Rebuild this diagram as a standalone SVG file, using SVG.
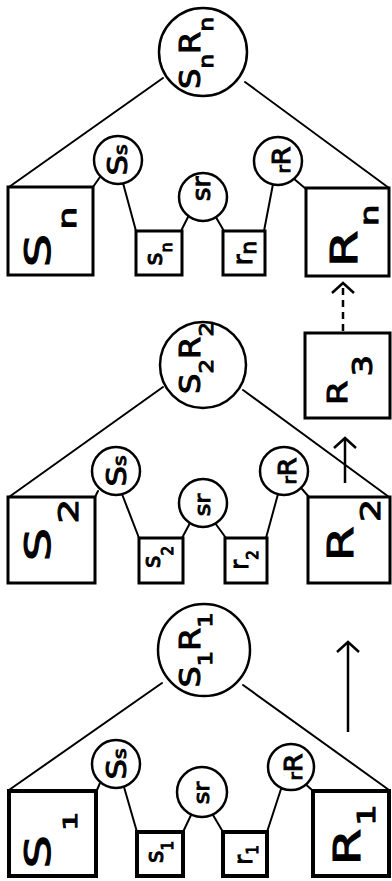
<svg xmlns="http://www.w3.org/2000/svg" width="392" height="881" viewBox="0 0 392 881">
<defs>
<style>
.bg{fill:#fff}
.box{fill:#fff;stroke:#000;stroke-width:3}
.box4{fill:#fff;stroke:#000;stroke-width:4}
.circ{fill:#fff;stroke:#000;stroke-width:2.5}
.ln{stroke:#000;stroke-width:2;fill:none;stroke-linecap:round}
.arr{stroke:#000;stroke-width:2.5;fill:none}
.dash{stroke:#000;stroke-width:2.5;fill:none;stroke-dasharray:7 5}
text{font-family:"DejaVu Sans","Liberation Sans",sans-serif;fill:#000;stroke:#000;stroke-width:1;text-anchor:middle}
</style>
<marker id="head" viewBox="-15 -15 30 30" refX="0" refY="0" markerWidth="30" markerHeight="30" markerUnits="userSpaceOnUse" orient="auto" overflow="visible">
<path d="M -10 -11 L 0 0 L -10 11" stroke="#000" stroke-width="2.5" fill="none"/>
</marker>
</defs>
<rect class="bg" x="0" y="0" width="392" height="881"/>

<g id="connectors">
<line class="ln" x1="163" y1="78" x2="9" y2="187"/>
<line class="ln" x1="245" y1="82" x2="389" y2="188"/>
<line class="ln" x1="100" y1="177" x2="93" y2="187"/>
<line class="ln" x1="123" y1="183" x2="136" y2="231"/>
<line class="ln" x1="190" y1="213" x2="181" y2="231"/>
<line class="ln" x1="214" y1="214" x2="224" y2="231"/>
<line class="ln" x1="273" y1="184" x2="264" y2="231"/>
<line class="ln" x1="293" y1="178" x2="306" y2="189"/>
<line class="ln" x1="163" y1="387" x2="9" y2="497"/>
<line class="ln" x1="243" y1="390" x2="389" y2="497"/>
<line class="ln" x1="98" y1="491" x2="95" y2="497"/>
<line class="ln" x1="122" y1="494" x2="139" y2="538"/>
<line class="ln" x1="190" y1="523" x2="182" y2="538"/>
<line class="ln" x1="215" y1="523" x2="226" y2="538"/>
<line class="ln" x1="278" y1="494" x2="266" y2="538"/>
<line class="ln" x1="302" y1="489" x2="309" y2="497"/>
<line class="ln" x1="162" y1="683" x2="9" y2="790"/>
<line class="ln" x1="243" y1="685" x2="389" y2="790"/>
<line class="ln" x1="100" y1="783" x2="97" y2="790"/>
<line class="ln" x1="124" y1="787" x2="137" y2="832"/>
<line class="ln" x1="192" y1="813" x2="183" y2="832"/>
<line class="ln" x1="213" y1="815" x2="223" y2="832"/>
<line class="ln" x1="281" y1="789" x2="267" y2="832"/>
<line class="ln" x1="303" y1="782" x2="312" y2="790"/>
<line class="arr" x1="348" y1="732" x2="348" y2="642" marker-end="url(#head)"/>
<line class="arr" x1="345" y1="483" x2="345" y2="438" marker-end="url(#head)"/>
<line class="dash" x1="343" y1="331" x2="343" y2="283" marker-end="url(#head)"/>
</g>

<g id="SnRn"><circle class="circ" cx="203" cy="52" r="44"/>
<text transform="translate(200,53) rotate(-90) scale(1.15,1)" font-size="28">S<tspan font-size="20" dy="13">n</tspan><tspan dy="-13">R</tspan><tspan font-size="20" dy="13">n</tspan></text></g>
<g id="Sn"><rect class="box" x="8" y="187" width="85" height="88"/>
<text transform="translate(50,237) rotate(-90) scale(1.5,1)" font-size="35">S<tspan font-size="24" dy="26" dx="3">n</tspan></text></g>
<g id="Rn"><rect class="box" x="306" y="188" width="83" height="88"/>
<text transform="translate(357,236) rotate(-90) scale(1.4,1)" font-size="38">R<tspan font-size="24" dy="21" dx="3">n</tspan></text></g>
<g id="Ss_n"><circle class="circ" cx="118" cy="160" r="24"/>
<text transform="translate(127,160) rotate(-90) scale(1.2,1)" font-size="27">S<tspan font-size="17">s</tspan></text></g>
<g id="sr_n"><circle class="circ" cx="203" cy="197" r="24"/>
<text transform="translate(210,189) rotate(-90) scale(1.1,1)" font-size="24">sr</text></g>
<g id="rR_n"><circle class="circ" cx="278" cy="161" r="24"/>
<text transform="translate(290,160) rotate(-90) scale(1.1,1)" font-size="18">r<tspan font-size="25">R</tspan></text></g>
<g id="sn"><rect class="box" x="136" y="231" width="46" height="44"/>
<text transform="translate(162,254) rotate(-90)" font-size="25">s<tspan font-size="16" dy="10">n</tspan></text></g>
<g id="rn"><rect class="box" x="223" y="231" width="42" height="44"/>
<text transform="translate(252,253) rotate(-90)" font-size="26">r<tspan font-size="22" dy="4">n</tspan></text></g>

<g id="S2R2"><circle class="circ" cx="203" cy="365" r="43"/>
<text transform="translate(200,358) rotate(-90) scale(1.15,1)" font-size="28">S<tspan font-size="20" dy="13">2</tspan><tspan dy="-13">R</tspan><tspan font-size="20" dy="13">2</tspan></text></g>
<g id="S2"><rect class="box" x="8" y="497" width="87" height="86"/>
<text transform="translate(50,530) rotate(-90) scale(1.5,1)" font-size="35">S<tspan font-size="26" dy="28" dx="3">2</tspan></text></g>
<g id="R2"><rect class="box" x="308" y="497" width="82" height="86"/>
<text transform="translate(353,530) rotate(-90) scale(1.4,1)" font-size="36">R<tspan font-size="26" dy="27" dx="3">2</tspan></text></g>
<g id="Ss_2"><circle class="circ" cx="116" cy="471" r="24"/>
<text transform="translate(126,471) rotate(-90) scale(1.2,1)" font-size="27">S<tspan font-size="17">s</tspan></text></g>
<g id="sr_2"><circle class="circ" cx="203" cy="503" r="24"/>
<text transform="translate(210,505) rotate(-90) scale(1.1,1)" font-size="22">sr</text></g>
<g id="rR_2"><circle class="circ" cx="284" cy="471" r="24"/>
<text transform="translate(296,471) rotate(-90) scale(1.1,1)" font-size="18">r<tspan font-size="25">R</tspan></text></g>
<g id="s2"><rect class="box" x="139" y="538" width="44" height="45"/>
<text transform="translate(160,557) rotate(-90)" font-size="24">s<tspan font-size="15" dy="13">2</tspan></text></g>
<g id="r2"><rect class="box" x="225" y="538" width="42" height="45"/>
<text transform="translate(248,560) rotate(-90)" font-size="24">r<tspan font-size="15" dy="10">2</tspan></text></g>
<g id="R3"><rect class="box" x="305" y="333" width="85" height="85"/>
<text transform="translate(347,380) rotate(-90) scale(1.3,1)" font-size="27">R<tspan font-size="26" dy="25" dx="3">3</tspan></text></g>

<g id="S1R1"><circle class="circ" cx="204" cy="650" r="46"/>
<text transform="translate(200,650) rotate(-90) scale(1.2,1)" font-size="28">S<tspan font-size="20" dy="12">1</tspan><tspan dy="-12">R</tspan><tspan font-size="20" dy="12">1</tspan></text></g>
<g id="S1"><rect class="box4" x="9" y="791" width="87" height="85"/>
<text transform="translate(50,840) rotate(-90) scale(1.5,1)" font-size="35">S<tspan font-size="20" dy="27" dx="3">1</tspan></text></g>
<g id="R1"><rect class="box4" x="313" y="791" width="76" height="85"/>
<text transform="translate(360,835) rotate(-90) scale(1.4,1)" font-size="38">R<tspan font-size="24" dy="15" dx="2">1</tspan></text></g>
<g id="Ss_1"><circle class="circ" cx="116" cy="764" r="24"/>
<text transform="translate(126,764) rotate(-90) scale(1.2,1)" font-size="27">S<tspan font-size="17">s</tspan></text></g>
<g id="sr_1"><circle class="circ" cx="202" cy="792" r="25"/>
<text transform="translate(209,793) rotate(-90) scale(1.1,1)" font-size="22">sr</text></g>
<g id="rR_1"><circle class="circ" cx="291" cy="767" r="23"/>
<text transform="translate(302,767) rotate(-90) scale(1.1,1)" font-size="18">r<tspan font-size="25">R</tspan></text></g>
<g id="s1"><rect class="box4" x="137" y="832" width="46" height="44"/>
<text transform="translate(163,852) rotate(-90)" font-size="24">s<tspan font-size="15" dy="10">1</tspan></text></g>
<g id="r1"><rect class="box4" x="223" y="832" width="44" height="44"/>
<text transform="translate(252,855) rotate(-90)" font-size="24">r<tspan font-size="15" dy="6">1</tspan></text></g>
</svg>
